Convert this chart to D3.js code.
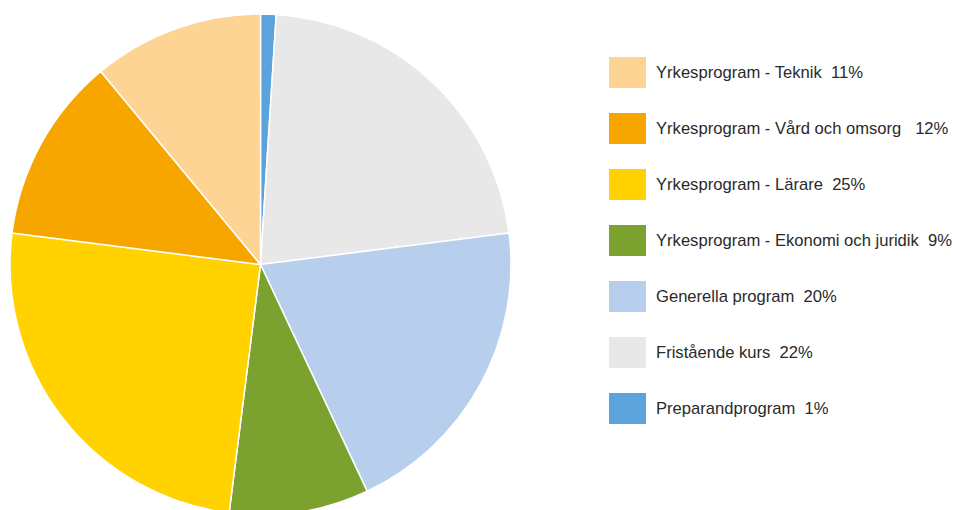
<!DOCTYPE html>
<html><head><meta charset="utf-8">
<script src="https://cdn.jsdelivr.net/npm/d3@7"></script>
<style>body{margin:0;background:#fff;} svg{display:block;}</style>
</head><body>
<svg id="c" width="953" height="510"></svg>
<script>
const categories = ["Preparandprogram","Fristående kurs","Generella program","Yrkesprogram - Ekonomi och juridik","Yrkesprogram - Lärare","Yrkesprogram - Vård och omsorg","Yrkesprogram - Teknik"];
const values = [1,22,20,9,25,12,11];
const colors = ["#5BA3DA","#E8E8E8","#B7CFED","#7BA12E","#FFD200","#F7A600","#FDD494"];
const legendOrder = ["Yrkesprogram - Teknik","Yrkesprogram - Vård och omsorg","Yrkesprogram - Lärare","Yrkesprogram - Ekonomi och juridik","Generella program","Fristående kurs","Preparandprogram"];
const legendLabels = ["Yrkesprogram - Teknik  11%","Yrkesprogram - Vård och omsorg   12%","Yrkesprogram - Lärare  25%","Yrkesprogram - Ekonomi och juridik  9%","Generella program  20%","Fristående kurs  22%","Preparandprogram  1%"];

const svg = d3.select("#c");
const data = categories.map((c,i)=>({cat:c, value:values[i], color:colors[i]}));
const pie = d3.pie().sort(null).value(d=>d.value);
const arc = d3.arc().innerRadius(0).outerRadius(250.5);
const g = svg.append("g").attr("transform","translate(260.5,264.5)");
g.selectAll("path").data(pie(data)).join("path")
  .attr("d",arc).attr("fill",d=>d.data.color)
  .attr("stroke","#fff").attr("stroke-width",1.5).attr("stroke-linejoin","round");

const colorOf = Object.fromEntries(data.map(d=>[d.cat,d.color]));
const y = d3.scaleBand().domain(legendOrder).range([44.5,436.5]);
const lg = svg.append("g");
const rows = lg.selectAll("g").data(legendOrder).join("g")
  .attr("transform",d=>`translate(609,${y(d)+y.bandwidth()/2})`);
rows.append("rect").attr("x",0).attr("y",-15.5).attr("width",37).attr("height",31).attr("fill",d=>colorOf[d]);
rows.append("text").attr("x",47).attr("y",0).attr("dy","0.36em")
  .attr("font-family","Liberation Sans, Arial, sans-serif").attr("font-size",16.6)
  .attr("fill","#2a2a2a").style("white-space","pre")
  .text((d,i)=>legendLabels[i]);
</script>
</body></html>
